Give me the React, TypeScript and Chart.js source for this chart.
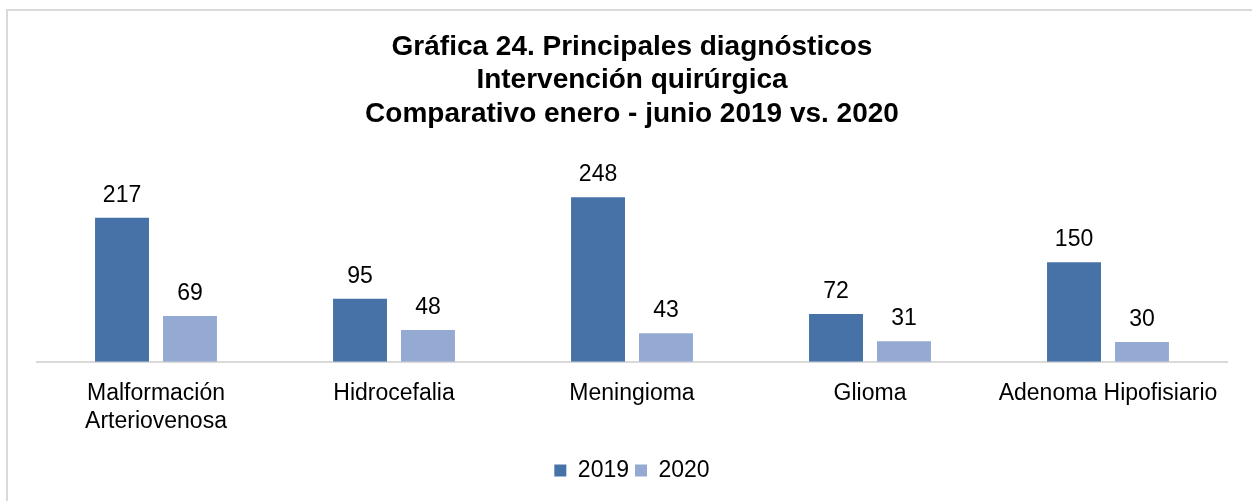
import React, { useEffect, useRef } from "react";
import { Chart, registerables } from "chart.js";

Chart.register(...registerables);

const categories: (string | string[])[] = [
  ["Malformación", "Arteriovenosa"],
  "Hidrocefalia",
  "Meningioma",
  "Glioma",
  "Adenoma Hipofisiario",
];
const values2019 = [217, 95, 248, 72, 150];
const values2020 = [69, 48, 43, 31, 30];
const seriesLabels = ["2019", "2020"];
const titleLines = [
  "Gráfica 24. Principales diagnósticos",
  "Intervención quirúrgica",
  "Comparativo enero - junio 2019 vs. 2020",
];

const FONT = "'Liberation Sans', Arial, Helvetica, sans-serif";

const dataLabelPlugin = {
  id: "dataLabels",
  afterDatasetsDraw(chart: any) {
    const ctx = chart.ctx;
    ctx.save();
    ctx.font = `23px ${FONT}`;
    ctx.fillStyle = "#000000";
    ctx.textAlign = "center";
    ctx.textBaseline = "alphabetic";
    chart.data.datasets.forEach((ds: any, i: number) => {
      const meta = chart.getDatasetMeta(i);
      meta.data.forEach((bar: any, j: number) => {
        ctx.fillText(String(ds.data[j]), bar.x, bar.y - 16);
      });
    });
    ctx.restore();
  },
};

export default function App() {
  const ref = useRef<HTMLCanvasElement | null>(null);
  useEffect(() => {
    if (!ref.current) return;
    const chart = new Chart(ref.current, {
      type: "bar",
      data: {
        labels: categories,
        datasets: [
          {
            label: seriesLabels[0],
            data: values2019,
            backgroundColor: "#4672A8",
            categoryPercentage: 0.571,
            barPercentage: 0.794,
          },
          {
            label: seriesLabels[1],
            data: values2020,
            backgroundColor: "#95AAD3",
            categoryPercentage: 0.571,
            barPercentage: 0.794,
          },
        ],
      },
      options: {
        animation: false,
        responsive: false,
        maintainAspectRatio: false,
        layout: { padding: { left: 37, right: 25, top: 0, bottom: 0 } },
        plugins: {
          title: {
            display: true,
            text: titleLines,
            color: "#000000",
            font: { family: FONT, size: 28, weight: "bold", lineHeight: 1.2 },
            padding: { top: 30, bottom: 32 },
          },
          legend: {
            display: true,
            position: "bottom",
            labels: {
              color: "#000000",
              font: { family: FONT, size: 23 },
              boxWidth: 12,
              boxHeight: 12,
              padding: 6,
            },
          },
          tooltip: { enabled: false },
        },
        scales: {
          x: {
            grid: { display: false, drawTicks: false },
            border: { display: true, color: "#d9d9d9", width: 2 },
            ticks: {
              color: "#000000",
              font: { family: FONT, size: 23, lineHeight: 1.2 },
              padding: 18,
              maxRotation: 0,
              autoSkip: false,
            },
          },
          y: {
            display: false,
            min: 0,
            max: 300,
          },
        },
      },
      plugins: [dataLabelPlugin],
    });
    return () => chart.destroy();
  }, []);

  return (
    <div
      style={{
        position: "fixed",
        top: 0,
        left: 0,
        width: 1252,
        height: 501,
        overflow: "hidden",
        background: "#ffffff",
      }}
    >
      <canvas
        ref={ref}
        width={1252}
        height={492}
        style={{ position: "absolute", top: 0, left: 0, width: 1252, height: 492 }}
      />
      <div
        style={{
          position: "absolute",
          top: 9,
          left: 6,
          width: 1300,
          height: 600,
          border: "2px solid #d9d9d9",
          pointerEvents: "none",
        }}
      />
    </div>
  );
}
